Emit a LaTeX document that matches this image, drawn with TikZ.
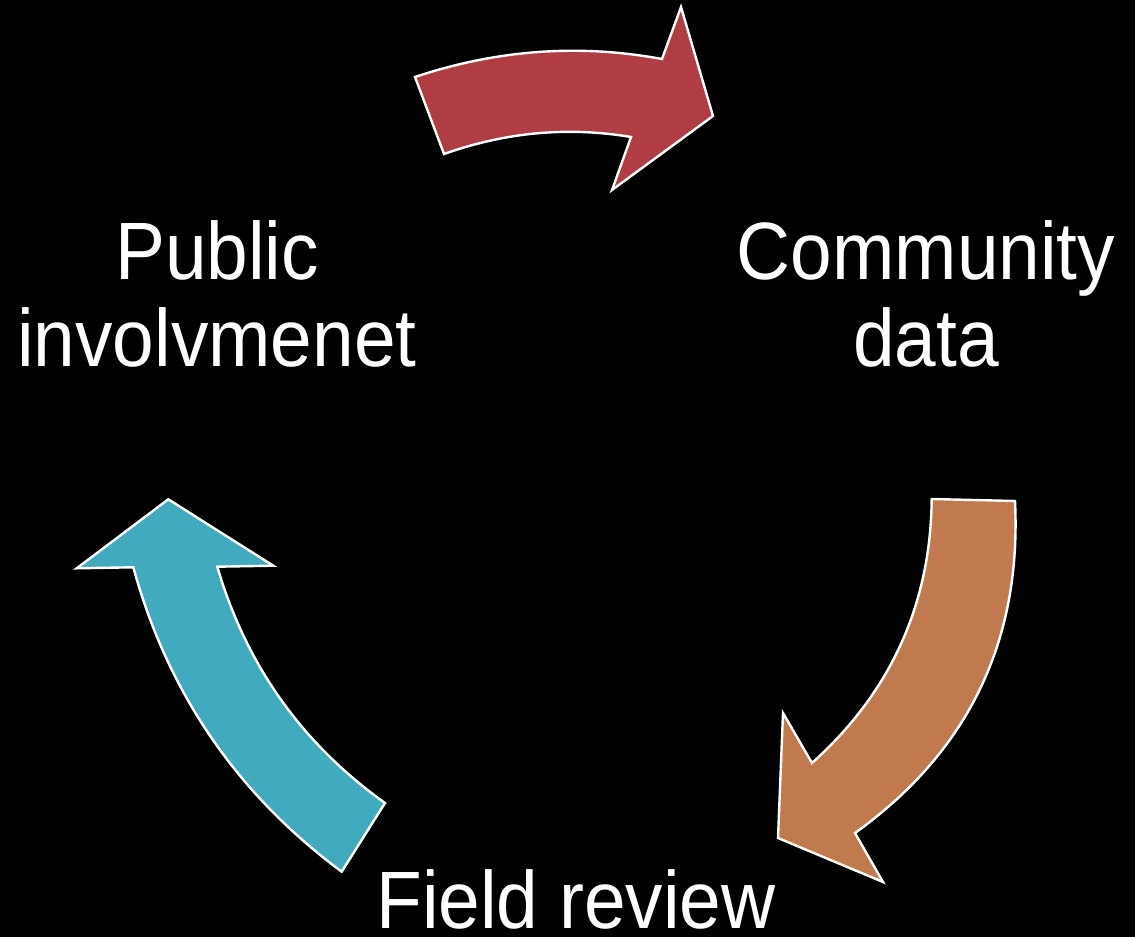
\documentclass[tikz,border=0pt]{standalone}
\usepackage{fontspec}
\setmainfont[FakeStretch=0.92]{Liberation Sans}
\definecolor{redc}{RGB}{176,60,68}
\definecolor{orangec}{RGB}{193,122,78}
\definecolor{tealc}{RGB}{65,170,191}
\tikzset{
  cyclearrow/.style={draw=white, line width=1.8pt, line join=miter},
  lbl/.style={text=white, anchor=base, inner sep=0pt, font=\fontsize{61}{65}\selectfont}
}
\begin{document}
\begin{tikzpicture}[x=0.75pt,y=-0.75pt]
\fill[black] (0,0) rectangle (1135,937);
\useasboundingbox (0,0) rectangle (1135,937);
% red arrow (top)
\draw[cyclearrow, fill=redc] (415,77) .. controls (496.7,49.7) and (579,43.7) .. (662,59)
  -- (681,7) -- (713,116) -- (612,190) -- (631,137)
  .. controls (568,126.4) and (505.7,132.1) .. (444,154) -- cycle;
% orange arrow (right)
\draw[cyclearrow, fill=orangec] (1015,501) .. controls (1021.7,641) and (968.3,751.7) .. (855,833)
  -- (883,882) -- (778,838) -- (783,713) -- (812,763)
  .. controls (890.7,692.3) and (930.6,604.3) .. (931.7,499) -- cycle;
% teal arrow (left)
\draw[cyclearrow, fill=tealc] (168.3,499.3) -- (273.3,565.7) -- (217.3,566.7)
  .. controls (246,664.8) and (301.9,743.6) .. (385,803) -- (341.7,871.7)
  .. controls (237,794.1) and (167.6,692.5) .. (133.3,567.3) -- (76.7,568.3) -- cycle;
% labels
\node[lbl] (pub1) at (217,280) {Public};
\node[lbl] (pub2) at (217,367) {involvmenet};
\node[lbl] (com1) at (926,280) {Community};
\node[lbl] (com2) at (926,367) {data};
\node[lbl] (field) at (576,928) {Field review};
\end{tikzpicture}
\end{document}
